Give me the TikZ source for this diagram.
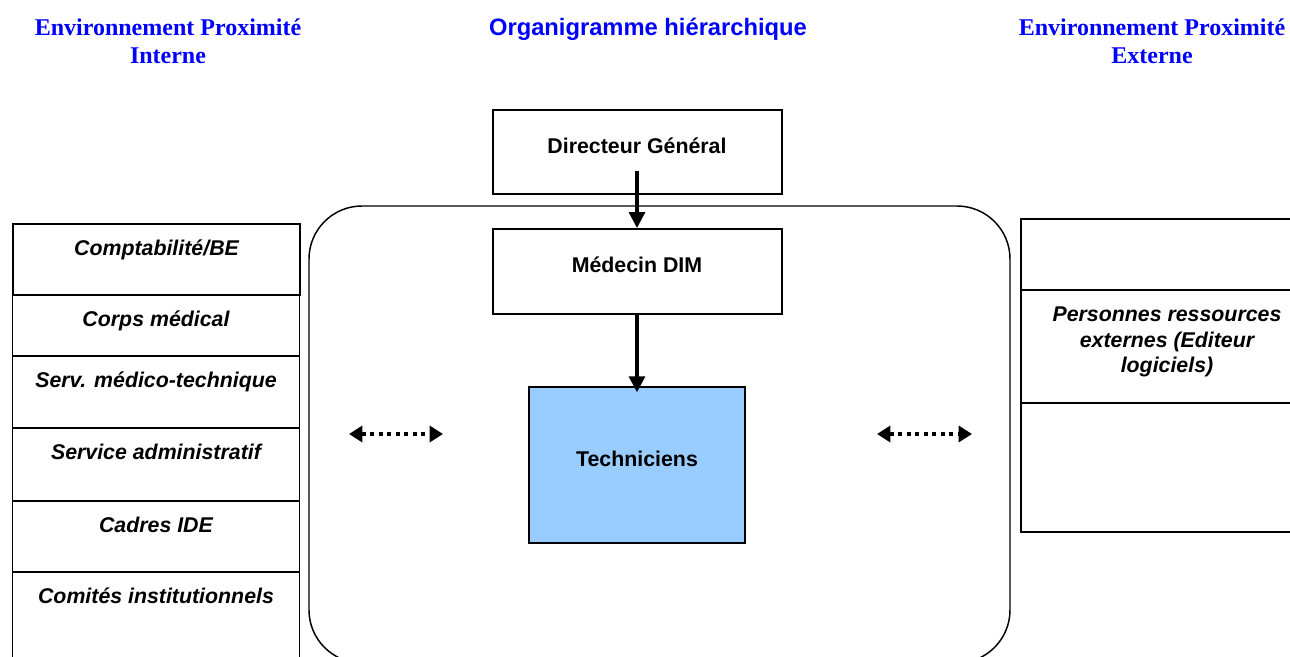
\documentclass[tikz,border=0pt]{standalone}
\usepackage{fontspec}
\setmainfont{Liberation Serif}
\setsansfont{Liberation Sans}
\usetikzlibrary{arrows.meta}
\definecolor{titleblue}{RGB}{0,0,255}
\definecolor{techblue}{RGB}{153,204,255}
\begin{document}
\begin{tikzpicture}[x=0.75pt,y=-0.75pt,
  boxfont/.style={font=\fontsize{16}{18.4}\selectfont\sffamily\bfseries},
  cellfont/.style={font=\fontsize{16}{19}\selectfont\sffamily\bfseries\itshape},
  hbox/.style={draw, line width=1.5pt, boxfont, text height=7pt, text depth=5pt, inner sep=0pt},
  cell/.style={draw, line width=1.4pt, inner sep=0pt, minimum width=215.25pt},
  rcell/.style={draw, line width=1.4pt, inner sep=0pt, minimum width=219pt},
  celltext/.style={anchor=base, yshift=-24.5pt, cellfont, align=center, inner sep=0pt},
  serftitle/.style={font=\fontsize{18}{21}\selectfont\bfseries, text=titleblue, align=center, anchor=base, inner sep=0pt},
  sanstitle/.style={font=\fontsize{17.8}{21}\selectfont\sffamily\bfseries, text=titleblue, anchor=base, inner sep=0pt},
  solidarrow/.style={line width=2.4pt, -{Triangle[width=12pt,length=12pt]}},
  dotarrow/.style={line width=3pt, dash pattern=on 3pt off 3.4pt, {Triangle[width=12pt,length=10pt]}-{Triangle[width=12pt,length=10pt]}}
]
\useasboundingbox (0,0) rectangle (1290,657);
\clip (0,0) rectangle (1290,657);

% titles (base = baseline of the last line)
\node[serftitle] (tleft) at (168,63) {Environnement Proximité\\Interne};
\node[sanstitle] (tmid) at (648,35) {Organigramme hiérarchique};
\node[serftitle] (tright) at (1152,63) {Environnement Proximité\\Externe};

% big rounded zone
\node[draw, line width=1.1pt, rounded corners=39.75pt, minimum width=525.75pt, minimum height=342.75pt, inner sep=0pt] (zone) at (659.5,434.5) {};

% hierarchy boxes
\node[hbox, minimum width=216.75pt, minimum height=63pt] (dg) at (637,152) {Directeur Général};
\node[hbox, fill=white, minimum width=216.75pt, minimum height=63.75pt] (med) at (637,271.5) {Médecin DIM};
\node[hbox, line width=1.1pt, fill=techblue, minimum width=162pt, minimum height=117pt] (tech) at (637,465) {Techniciens};

% arrows
\draw[solidarrow] ([yshift=18pt]dg.south) -- (med.north);
\draw[solidarrow] ([yshift=1pt]med.south) -- ([yshift=-4.5pt]tech.north);

% left column
\node[cell, minimum height=53.25pt, line width=1.7pt, label={[celltext]north:Comptabilité/BE}] (c1) at (156.5,259.5) {};
\node[cell, minimum height=45.75pt, label={[celltext]north:Corps médical}] (c2) at (156,325.5) {};
\node[cell, minimum height=54pt, label={[celltext]north:Serv. médico-technique}] (c3) at (156,392) {};
\node[cell, minimum height=54.75pt, label={[celltext]north:Service administratif}] (c4) at (156,464.5) {};
\node[cell, minimum height=53.25pt, label={[celltext]north:Cadres IDE}] (c5) at (156,536.5) {};
\node[cell, minimum height=81pt, label={[celltext]north:Comités institutionnels}] (c6) at (156,626) {};

% right column
\node[rcell, minimum height=53.25pt] (r1) at (1167,254.5) {};
\node[rcell, minimum height=84.75pt, label={[celltext, yshift=-38pt]north:Personnes ressources\\externes (Editeur\\logiciels)}] (r2) at (1167,346.5) {};
\node[rcell, minimum height=96.75pt] (r3) at (1167,467.5) {};

% dotted double arrows
\coordinate (la) at (349,434);
\coordinate (lb) at (443,434);
\coordinate (ra) at (877,434);
\coordinate (rb) at (972,434);
\draw[dotarrow] (la) -- (lb);
\draw[dotarrow] (ra) -- (rb);
\end{tikzpicture}
\end{document}
